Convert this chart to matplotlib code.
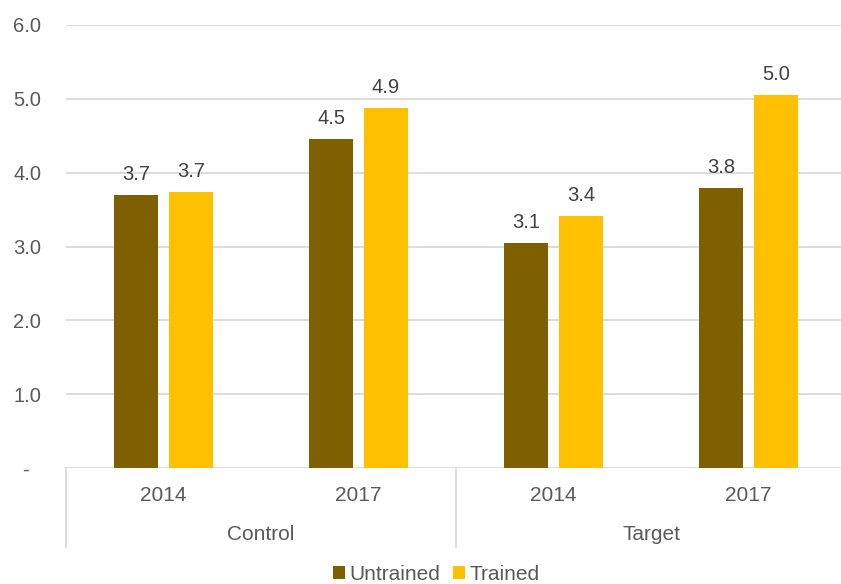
import numpy as np
import matplotlib
matplotlib.use('Agg')
from matplotlib import pyplot as plt

years = ['2014', '2017', '2014', '2017']
groups = ['Control', 'Target']
untrained = [3.70, 4.46, 3.05, 3.79]
trained = [3.74, 4.88, 3.41, 5.05]
untrained_labels = ['3.7', '4.5', '3.1', '3.8']
trained_labels = ['3.7', '4.9', '3.4', '5.0']
yticks = [0, 1, 2, 3, 4, 5, 6]
ytick_labels = ['-  ', '1.0', '2.0', '3.0', '4.0', '5.0', '6.0']

plt.rcParams['font.family'] = ['Liberation Sans', 'DejaVu Sans']

fig = plt.figure(figsize=(8.41, 5.84), dpi=100)
ax = fig.add_axes([66 / 841, 1 - 468 / 584, 1 - 66 / 841, 443 / 584])

x = np.arange(len(years))
w = 0.225
off = 0.141
b1 = ax.bar(x - off, untrained, w, color='#7F6000', label='Untrained', zorder=3)
b2 = ax.bar(x + off, trained, w, color='#FFC000', label='Trained', zorder=3)

for bars, labs in [(b1, untrained_labels), (b2, trained_labels)]:
    for b, lab in zip(bars, labs):
        ax.annotate(lab, (b.get_x() + b.get_width() / 2, b.get_height()),
                    xytext=(0, 8), textcoords='offset points',
                    ha='center', va='bottom', fontsize=14.5, color='#404040')

ax.set_ylim(0, 6)
ax.set_xlim(-0.5, 3.474)
ax.set_yticks(yticks)
ax.set_yticklabels(ytick_labels, fontsize=14.5, color='#595959')
ax.tick_params(axis='y', length=0, pad=18)
ax.set_xticks([])
ax.grid(axis='y', color='#D9D9D9', linewidth=1.3, zorder=0)
for s in ax.spines.values():
    s.set_visible(False)

tr = ax.get_xaxis_transform()
for i, yr in enumerate(years):
    ax.text(i, -0.061, yr, transform=tr, ha='center', va='center',
            fontsize=15, color='#595959')
for j, g in enumerate(groups):
    ax.text(2 * j + 0.5, -0.149, g, transform=tr, ha='center', va='center',
            fontsize=15, color='#595959')
for xs in [-0.5, 1.5, 3.5]:
    ax.plot([xs, xs], [0, -0.178], transform=tr, color='#D9D9D9',
            linewidth=1.3, clip_on=False)

fig.legend(handles=[b1, b2], loc='center', bbox_to_anchor=(436 / 841, 1 - 574 / 584),
           ncol=2, frameon=False, fontsize=15, handlelength=0.6, handleheight=0.6,
           handletextpad=0.2, columnspacing=0.6, labelcolor='#595959')

fig.savefig('out.png', dpi=100)
